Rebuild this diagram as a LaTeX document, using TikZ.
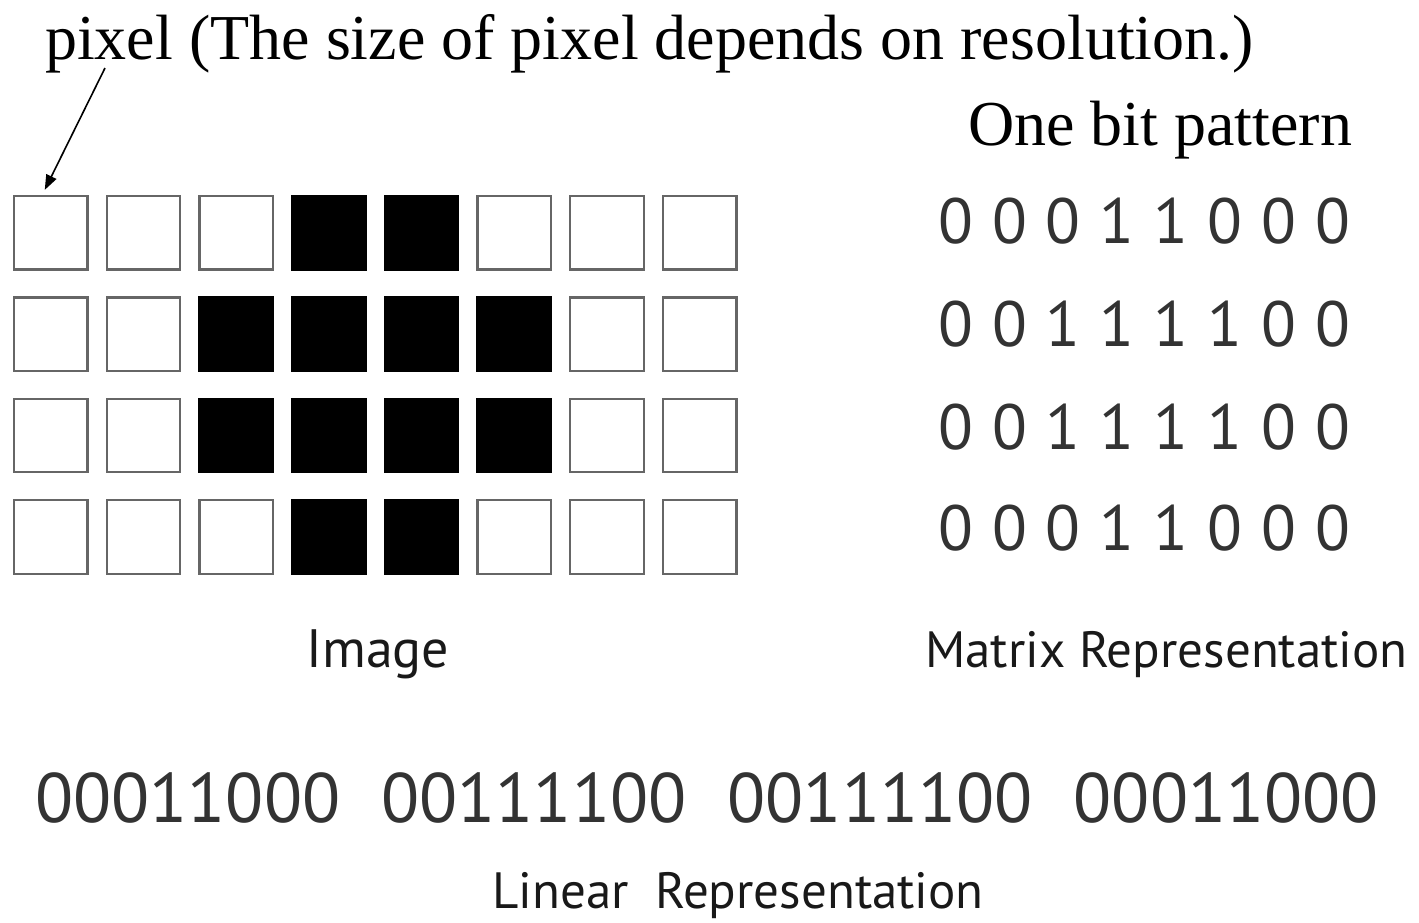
\documentclass[tikz,border=0pt]{standalone}
\usepackage{fontspec}
\setmainfont{Liberation Serif}
\newfontfamily\sansf{PT Sans}
\usetikzlibrary{arrows.meta,calc}
\definecolor{boxgray}{HTML}{666666}
\definecolor{digitgray}{HTML}{333333}
\newcommand\setmatsp{\spaceskip=19pt\relax}
\newcommand\setlinsp{\spaceskip=41pt\relax}
\tikzset{
  pix/.style={draw=boxgray, line width=2.2pt, minimum width=73.5pt, minimum height=73.5pt, inner sep=0pt, fill=white},
  pixon/.style={draw=black, fill=black, line width=2.2pt, minimum width=73.5pt, minimum height=73.5pt, inner sep=0pt},
  serift/.style={font=\fontsize{64}{70}\selectfont, inner sep=0pt, text=black},
  matrow/.style={font=\sansf\fontsize{64}{70}\selectfont, inner sep=0pt, text=digitgray, anchor=base west},
  linrow/.style={font=\sansf\fontsize{70}{76}\selectfont, inner sep=0pt, text=digitgray, anchor=base west},
  lbl/.style={font=\sansf\fontsize{54}{60}\selectfont, inner sep=0pt, text=black!90, anchor=base},
  ptr/.style={-{Triangle[length=15pt,width=11pt]}, line width=1.6pt, black}
}
\begin{document}
\begin{tikzpicture}[x=1pt,y=-1pt]
\useasboundingbox (0,0) rectangle (1419,922);
% top text
\node[serift, anchor=base west] (title) at (45,59) {pixel (The size of pixel depends on resolution.)};
\node[serift, anchor=base west] (obp) at (968,145) {One bit pattern};
% grid
\foreach \r/\pat in {1/{0,0,0,1,1,0,0,0},2/{0,0,1,1,1,1,0,0},3/{0,0,1,1,1,1,0,0},4/{0,0,0,1,1,0,0,0}}{
  \foreach \v [count=\c] in \pat {
    \pgfmathsetmacro{\cx}{13+37.75+92.7*(\c-1)}
    \pgfmathsetmacro{\cy}{195+37.75+101.4*(\r-1)}
    \ifnum\v=1
      \node[pixon] (c\r\c) at (\cx,\cy) {};
    \else
      \node[pix] (c\r\c) at (\cx,\cy) {};
    \fi
  }
}
% arrow
\coordinate (pstart) at (105,68);
\draw[ptr] (pstart) -- ($(c11.north)+(-6,-5)$);
% matrix representation
\node[matrow] (m1) at (938,243) {\setmatsp 0 0 0 1 1 0 0 0};
\node[matrow] (m2) at (938,346) {\setmatsp 0 0 1 1 1 1 0 0};
\node[matrow] (m3) at (938,449) {\setmatsp 0 0 1 1 1 1 0 0};
\node[matrow] (m4) at (938,550) {\setmatsp 0 0 0 1 1 0 0 0};
% labels
\node[lbl] (limg) at (378,667) {Image};
\node[lbl, font=\sansf\fontsize{51}{56}\selectfont, anchor=base west] (lmat) at (925,667) {Matrix Representation};
\node[linrow] (lin) at (35,822) {\setlinsp 00011000 00111100 00111100 00011000};
\node[lbl, font=\sansf\fontsize{51}{56}\selectfont] (llin) at (738,908) {Linear\hspace{0.25em} Representation};
\end{tikzpicture}
\end{document}
